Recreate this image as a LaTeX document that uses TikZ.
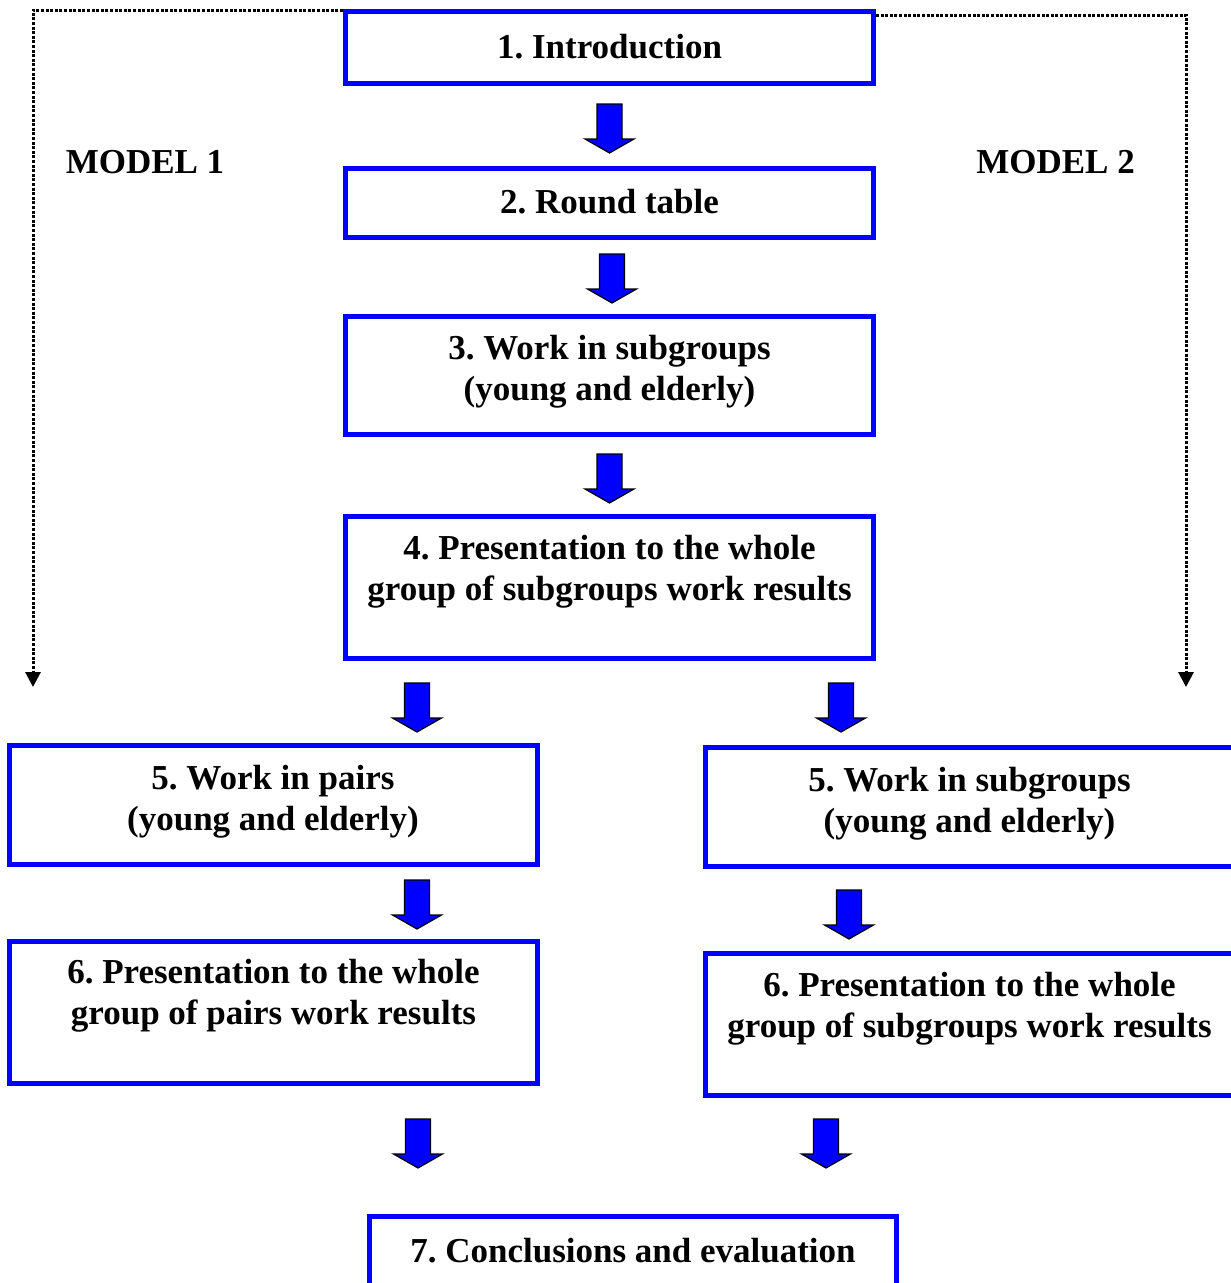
\documentclass[tikz,border=0pt]{standalone}
\usepackage{fontspec}
\setmainfont{Liberation Serif}
\usetikzlibrary{arrows.meta}
\frenchspacing
\begin{document}
\begin{tikzpicture}[x=1pt,y=-1pt,
  box/.style={draw=blue, line width=5pt, inner sep=0pt, minimum width=528pt},
  txt/.style={font=\fontsize{35}{41}\selectfont\bfseries, align=center, inner sep=0pt},
  dotline/.style={line width=3pt, dash pattern=on 3pt off 1.6pt, -{Triangle[width=15pt,length=15pt]}},
  blockarr/.pic={\draw[line width=1.2pt, fill=blue, line join=miter] (-12.5,0) -- (-12.5,35) -- (-24.5,35) -- (0,49) -- (24.5,35) -- (12.5,35) -- (12.5,0) -- cycle;}
]
\clip (0,0) rectangle (1231,1283);
% boxes
\node[box, minimum height=72pt] (b1) at (609.5,47.5) {};
\node[box, minimum height=69pt] (b2) at (609.5,203) {};
\node[box, minimum height=118pt] (b3) at (609.5,375.5) {};
\node[box, minimum height=142pt] (b4) at (609.5,587.5) {};
\node[box, minimum height=119pt] (b5l) at (273.5,805) {};
\node[box, minimum height=119pt] (b5r) at (969.5,807) {};
\node[box, minimum height=142pt] (b6l) at (273.5,1012.5) {};
\node[box, minimum height=142pt] (b6r) at (969.5,1024.5) {};
\node[box, minimum height=72pt, minimum width=527pt] (b7) at (633,1252.5) {};
% texts
\node[txt] (t1) at (609.5,46.5) {1. Introduction};
\node[txt] (t2) at (609.5,201.5) {2. Round table};
\node[txt] (t3) at (609.5,372) {3. Work in subgroups\\(young and elderly)};
\node[txt] (t4) at (609.5,572) {4. Presentation to the whole\\group of subgroups work results};
\node[txt] (t5l) at (273,802) {5. Work in pairs\\(young and elderly)};
\node[txt] (t5r) at (969.5,803.5) {5. Work in subgroups\\(young and elderly)};
\node[txt] (t6l) at (273.5,996) {6. Presentation to the whole\\group of pairs work results};
\node[txt] (t6r) at (969.5,1009) {6. Presentation to the whole\\group of subgroups work results};
\node[txt] (t7) at (633,1250.5) {7. Conclusions and evaluation};
\node[txt] (m1) at (145,162) {MODEL 1};
\node[txt] (m2) at (1055.5,162) {MODEL 2};
% block arrows
\pic (a1) at (609.5,104) {blockarr};
\pic (a2) at (612,254) {blockarr};
\pic (a3) at (609.5,454) {blockarr};
\pic (a4l) at (417,683) {blockarr};
\pic (a4r) at (841,683) {blockarr};
\pic (a5l) at (417,880) {blockarr};
\pic (a5r) at (849,890) {blockarr};
\pic (a6l) at (418,1119) {blockarr};
\pic (a6r) at (826,1119) {blockarr};
% dotted model connectors
\coordinate (e1) at (33,687);
\coordinate (e2) at (1186,687);
\draw[dotline] ([yshift=-1pt]b1.north west) -| (e1);
\draw[dotline] ([yshift=-6pt]b1.north east) -| (e2);
\end{tikzpicture}
\end{document}
